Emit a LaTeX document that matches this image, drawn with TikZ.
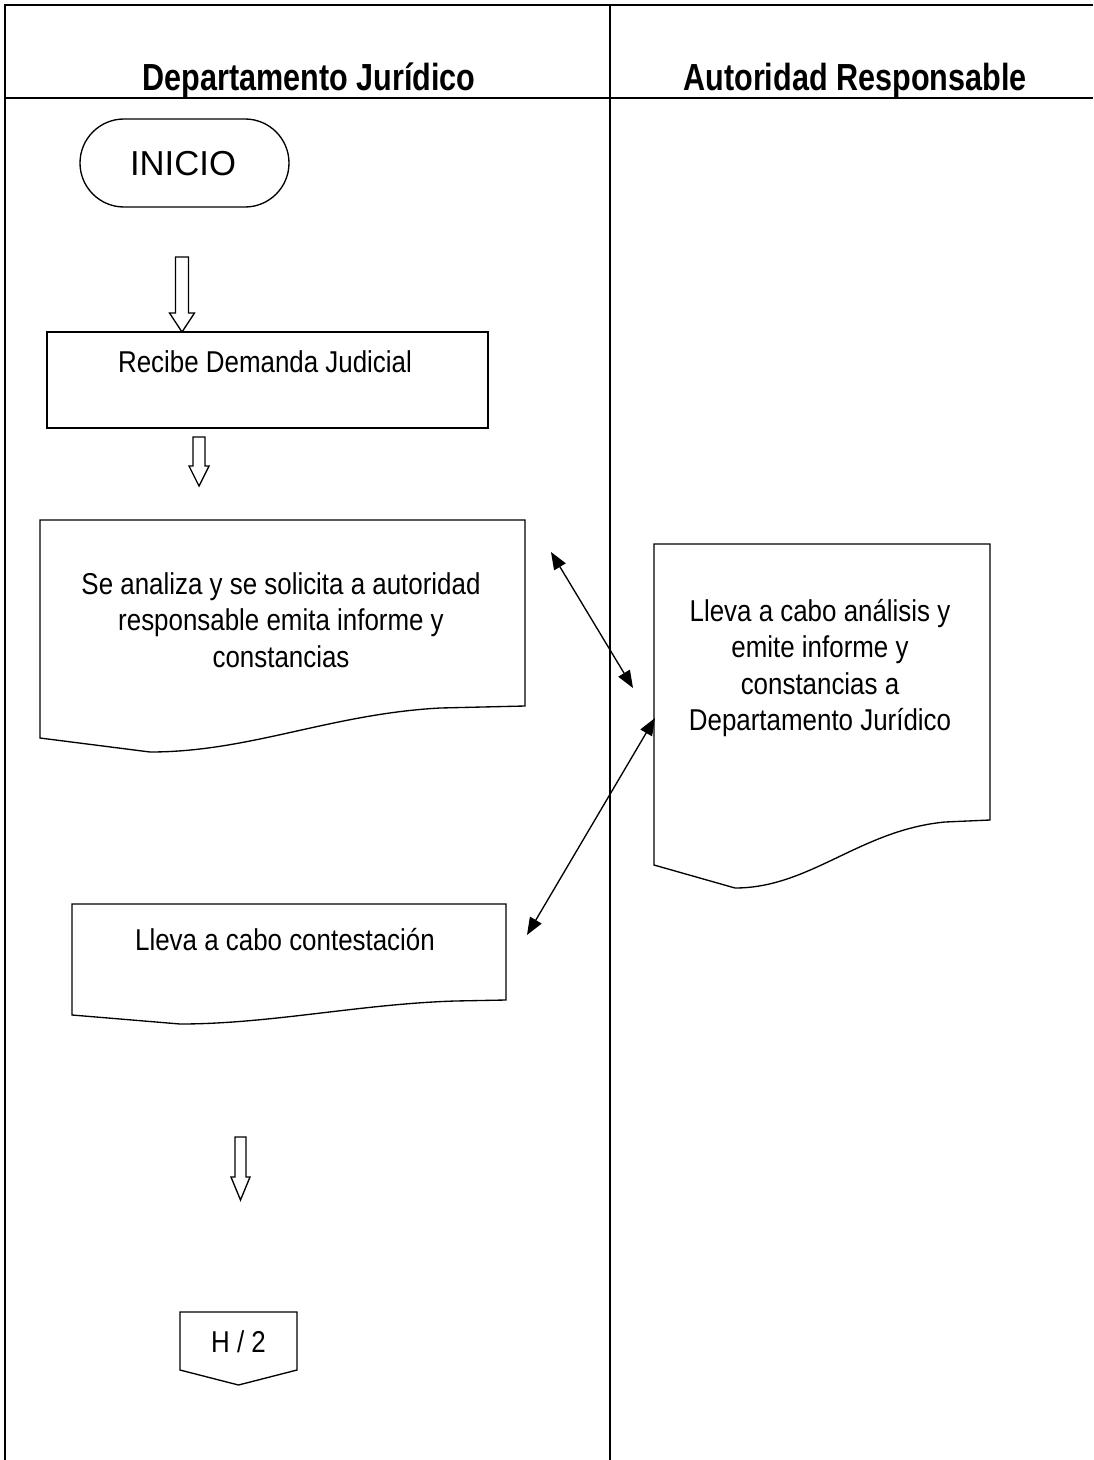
\documentclass[tikz,border=0pt]{standalone}
\usepackage{fontspec}
\setmainfont{Liberation Sans}
\newfontfamily\bodyfont[FakeStretch=0.86]{Liberation Sans}
\newfontfamily\headfont[FakeStretch=0.81]{Liberation Sans}
\usetikzlibrary{arrows.meta}
\newcommand\blkarrow[6]{%
  \draw[blkstyle] (#1-#4,#2) -- (#1+#4,#2) -- (#1+#4,#3-#6) -- (#1+#5,#3-#6) -- (#1,#3)
    -- (#1-#5,#3-#6) -- (#1-#4,#3-#6) -- cycle;}
\begin{document}
\begin{tikzpicture}[x=0.75pt,y=-0.75pt,
  hline/.style={line width=2.1pt},
  vline/.style={line width=1.6pt},
  shapeline/.style={draw, line width=1pt},
  blkstyle/.style={draw, line width=1pt, fill=white},
  body/.style={font=\bodyfont\fontsize{22.6}{27.4}\selectfont, align=center, inner sep=0pt},
  head/.style={font=\headfont\bfseries\fontsize{28.3}{32}\selectfont, inner sep=0pt, anchor=base},
  dbl/.style={line width=1pt, {Triangle[length=13pt,width=10pt]}-{Triangle[length=13pt,width=10pt]}}]
\useasboundingbox (0,0) rectangle (1093,1460);
\fill[white] (0,0) rectangle (1093,1460);
% frame
\draw[vline] (5,1460) -- (5,5);
\draw[hline] (4,5) -- (1093,5);
\draw[hline] (5,98) -- (1093,98);
\draw[vline] (610,5) -- (610,1460);
\node[head] (h1) at (309,90) {Departamento Jurídico};
\node[head] (h2) at (855,90) {Autoridad Responsable};
% INICIO
\draw[shapeline, rounded corners=33pt] (80,119) rectangle (289,207);
\node[font=\fontsize{26}{30}\selectfont, inner sep=0pt] (inicio) at (183,164) {INICIO};
% arrow 1
\blkarrow{182}{257}{332}{6.5}{12.5}{19}
% Recibe
\draw[shapeline] (47,332) rectangle (488,428);
\node[body] (recibe) at (265,362) {Recibe Demanda Judicial};
% arrow 2
\blkarrow{199}{437}{486}{6}{10}{20}
% doc 1
\draw[shapeline] (40,520) -- (525,520) -- (525,706) -- (440,708)
  .. controls (330,714) and (250,752) .. (150,752) -- (40,738) -- cycle;
\node[body] (analiza) at (281,620) {Se analiza y se solicita a autoridad\\responsable emita informe y\\constancias};
% doc 2
\draw[shapeline] (654,544) -- (990,544) -- (990,820) -- (945,822)
  .. controls (860,830) and (810,888) .. (735,888) -- (654,865) -- cycle;
\node[body] (lleva) at (820,668) {Lleva a cabo análisis y\\emite informe y\\constancias a\\Departamento Jurídico};
% doc 3
\draw[shapeline] (72,904) -- (506,904) -- (506,1000) -- (455,1001)
  .. controls (360,1004) and (270,1024) .. (180,1024) -- (72,1015) -- cycle;
\node[body] (contest) at (285,940) {Lleva a cabo contestación};
% double arrows
\coordinate (a1s) at (551,552);
\coordinate (a1e) at (633,688);
\coordinate (a2s) at (655,718);
\coordinate (a2e) at (527,935);
\draw[dbl] (a1s) -- (a1e);
\draw[dbl] (a2s) -- (a2e);
% arrow 3
\blkarrow{240.5}{1137}{1200}{5.5}{9.5}{23}
% H/2
\draw[shapeline] (180,1312) -- (297,1312) -- (297,1370) -- (238.5,1385) -- (180,1370) -- cycle;
\node[body] (hdos) at (238.5,1342) {H / 2};
\end{tikzpicture}
\end{document}
